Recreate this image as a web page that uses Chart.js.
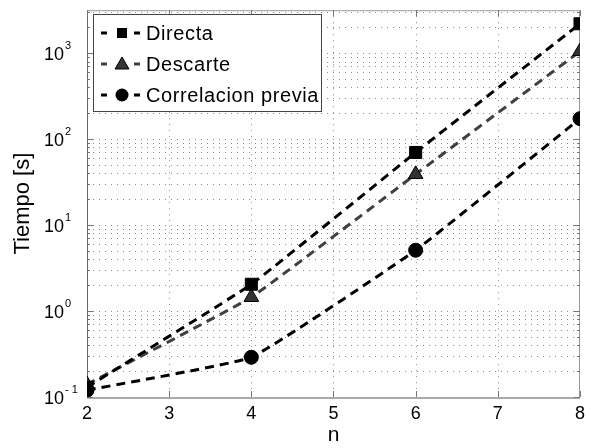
<!DOCTYPE html>
<html>
<head>
<meta charset="utf-8">
<script src="https://cdn.jsdelivr.net/npm/chart.js@4"></script>
<style>
  html, body { margin: 0; padding: 0; background: #fff; }
  #wrap { width: 591px; height: 448px; position: relative; }
</style>
</head>
<body>
<div id="wrap"><canvas id="c" width="591" height="448"></canvas></div>
<script>
const nValues = [2, 4, 6, 8];
const directa = [0.13, 2.05, 70, 2200];
const descarte = [0.14, 1.45, 39, 1050];
const correlacion = [0.12, 0.29, 5.1, 173];
const seriesNames = ['Directa', 'Descarte', 'Correlacion previa'];
const decadeExps = [-1, 0, 1, 2, 3];

const FONT = '"Liberation Sans", Arial, sans-serif';

// grid, box, inner ticks, superscript y labels and the boxed legend
const matlabAxes = {
  id: 'matlabAxes',
  beforeDatasetsDraw(chart) {
    const { ctx, chartArea: a, scales: { x, y } } = chart;
    ctx.save();
    ctx.strokeStyle = '#8a8a8a';
    ctx.lineWidth = 1;
    ctx.setLineDash([1, 5]);
    for (let e = -1; e <= 3; e++) {
      for (let k = 1; k <= 9; k++) {
        const v = k * Math.pow(10, e);
        if (v > y.max || v <= y.min) continue;
        const py = Math.round(y.getPixelForValue(v)) + 0.5;
        ctx.beginPath(); ctx.moveTo(a.left, py); ctx.lineTo(a.right, py); ctx.stroke();
      }
    }
    for (let n = 3; n <= 7; n++) {
      const px = Math.round(x.getPixelForValue(n)) + 0.5;
      ctx.beginPath(); ctx.moveTo(px, a.top); ctx.lineTo(px, a.bottom); ctx.stroke();
    }
    ctx.setLineDash([]);
    ctx.strokeStyle = '#999';
    ctx.strokeRect(a.left + 0.5, a.top + 0.5, a.right - a.left - 1, a.bottom - a.top);
    ctx.strokeStyle = '#666';
    ctx.beginPath(); ctx.moveTo(a.left + 0.5, a.top); ctx.lineTo(a.left + 0.5, a.bottom + 1); ctx.stroke();
    ctx.strokeStyle = '#aaa';
    ctx.lineWidth = 2;
    ctx.beginPath(); ctx.moveTo(a.left, a.bottom + 1); ctx.lineTo(a.right, a.bottom + 1); ctx.stroke();
    ctx.lineWidth = 1;
    ctx.strokeStyle = '#777';
    for (let e = -1; e <= 3; e++) {
      for (let k = 1; k <= 9; k++) {
        const v = k * Math.pow(10, e);
        if (v > y.max || v < y.min) continue;
        const py = Math.round(y.getPixelForValue(v)) + 0.5;
        const len = k === 1 ? 6 : 3;
        ctx.beginPath(); ctx.moveTo(a.left, py); ctx.lineTo(a.left + len, py);
        ctx.moveTo(a.right, py); ctx.lineTo(a.right - len, py); ctx.stroke();
      }
    }
    for (let n = 2; n <= 8; n++) {
      const px = Math.round(x.getPixelForValue(n)) + 0.5;
      ctx.beginPath(); ctx.moveTo(px, a.bottom); ctx.lineTo(px, a.bottom - 6);
      ctx.moveTo(px, a.top); ctx.lineTo(px, a.top + 6); ctx.stroke();
    }
    ctx.restore();
  },
  afterDraw(chart) {
    const { ctx, scales: { y } } = chart;
    ctx.save();
    ctx.fillStyle = '#000';
    ctx.textBaseline = 'alphabetic';
    ctx.textAlign = 'left';
    decadeExps.forEach(e => {
      const py = y.getPixelForValue(Math.pow(10, e));
      ctx.font = '18px ' + FONT;
      ctx.fillText('10', 44, py + 7);
      ctx.font = '11px ' + FONT;
      ctx.fillText(String(e).replace('-', '- '), 65, py - 4);
    });
    // legend box
    const lx = 93, ly = 14, lw = 228, lh = 97;
    ctx.fillStyle = '#fff';
    ctx.fillRect(lx, ly, lw, lh);
    ctx.strokeStyle = '#444';
    ctx.lineWidth = 1;
    ctx.strokeRect(lx + 0.5, ly + 0.5, lw, lh);
    const rows = [33, 64, 95];
    chart.data.datasets.forEach((ds, i) => {
      const cy = rows[i];
      ctx.strokeStyle = ds.borderColor;
      ctx.lineWidth = 3;
      ctx.setLineDash([6, 27]);
      ctx.beginPath(); ctx.moveTo(101, cy); ctx.lineTo(141, cy); ctx.stroke();
      ctx.setLineDash([]);
      ctx.fillStyle = ds.pointBackgroundColor;
      ctx.strokeStyle = '#000';
      ctx.lineWidth = 1;
      const mx = 122;
      if (ds.pointStyle === 'rect') {
        ctx.fillRect(mx - 5, cy - 5, 10, 10);
      } else if (ds.pointStyle === 'triangle') {
        ctx.beginPath(); ctx.moveTo(mx, cy - 7); ctx.lineTo(mx + 7, cy + 5); ctx.lineTo(mx - 7, cy + 5); ctx.closePath();
        ctx.fill(); ctx.stroke();
      } else {
        ctx.beginPath(); ctx.arc(mx, cy, 6.5, 0, Math.PI * 2); ctx.fill();
      }
      ctx.fillStyle = '#000';
      ctx.font = '20px ' + FONT;
      ctx.letterSpacing = '0.6px';
      ctx.textBaseline = 'middle';
      ctx.fillText(ds.label, 146, cy + 1);
      ctx.letterSpacing = '0px';
    });
    ctx.restore();
  }
};

const common = { borderWidth: 3, borderDash: [9, 6], fill: false, tension: 0.1, pointBorderColor: '#000', pointBorderWidth: 1 };

new Chart(document.getElementById('c'), {
  type: 'line',
  data: {
    datasets: [
      { ...common, label: seriesNames[0], data: nValues.map((n, i) => ({ x: n, y: directa[i] })),
        borderColor: '#000', pointBackgroundColor: '#000', pointStyle: 'rect', pointRadius: 8.5 },
      { ...common, label: seriesNames[1], data: nValues.map((n, i) => ({ x: n, y: descarte[i] })),
        borderColor: '#404040', pointBackgroundColor: '#333', pointStyle: 'triangle', pointRadius: 8.5 },
      { ...common, label: seriesNames[2], data: nValues.map((n, i) => ({ x: n, y: correlacion[i] })),
        borderColor: '#000', pointBackgroundColor: '#000', pointStyle: 'circle', pointRadius: 7 }
    ]
  },
  options: {
    responsive: false,
    animation: false,
    layout: { padding: { top: 8, right: 8, left: 0, bottom: 0 } },
    plugins: { legend: { display: false }, tooltip: { enabled: false } },
    scales: {
      x: {
        type: 'linear', min: 2, max: 8,
        ticks: { stepSize: 1, color: '#000', font: { family: FONT, size: 18 }, padding: 6, maxRotation: 0 },
        grid: { display: false, drawTicks: false },
        border: { display: false },
        title: { display: true, text: 'n', color: '#000', font: { family: FONT, size: 21 }, padding: { top: -6, bottom: 0 } },
        afterFit(s) { s.height = 51; }
      },
      y: {
        type: 'logarithmic', min: 0.1, max: 3162,
        ticks: { callback: () => '', color: '#000' },
        grid: { display: false, drawTicks: false },
        border: { display: false },
        title: { display: true, text: 'Tiempo [s]', color: '#000', font: { family: FONT, size: 22 }, padding: { top: 10, bottom: 0 } },
        afterFit(s) { s.width = 87; }
      }
    }
  },
  plugins: [matlabAxes]
});
</script>
</body>
</html>
